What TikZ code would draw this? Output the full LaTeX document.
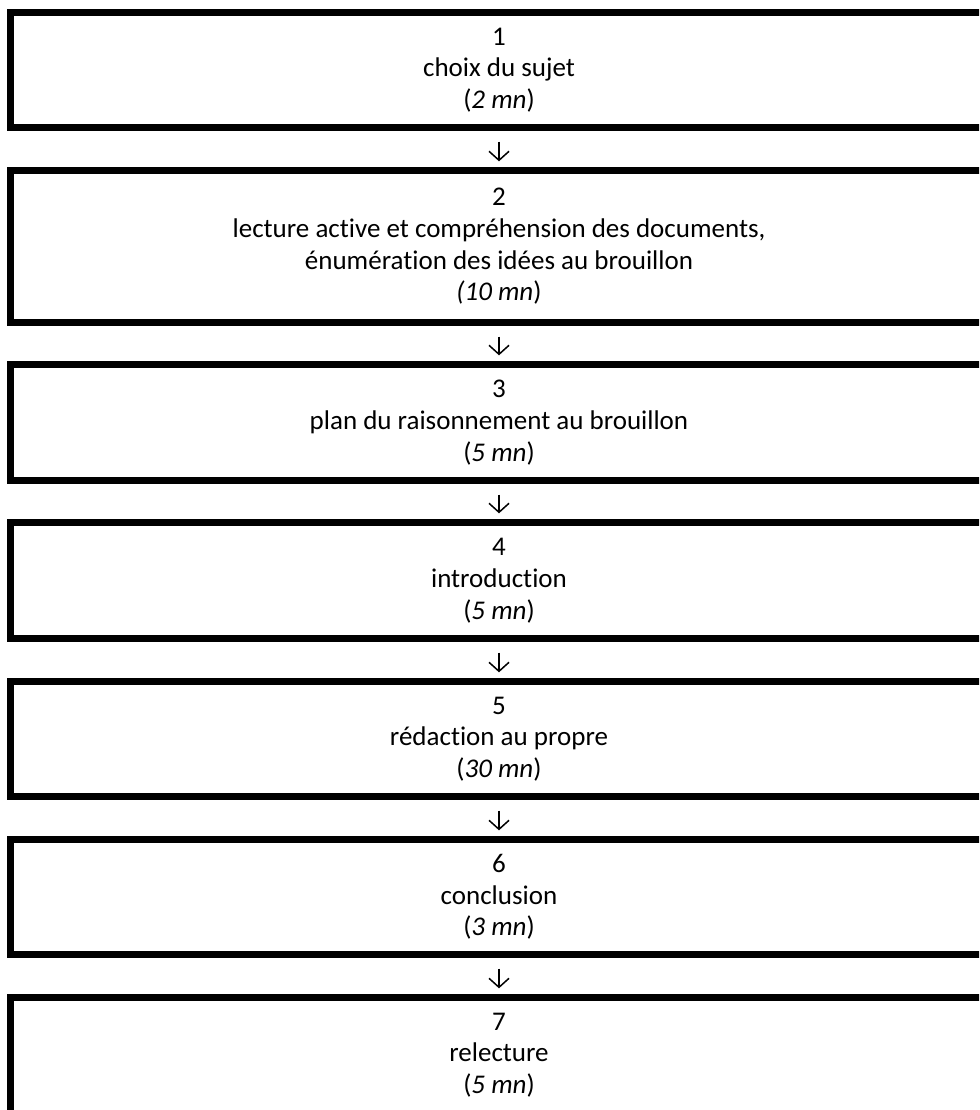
\documentclass[tikz,border=0pt]{standalone}
\usepackage{fontspec}
\setmainfont{Carlito}[Ligatures=NoCommon]
\usetikzlibrary{arrows.meta}

\begin{document}
\begin{tikzpicture}[x=1pt,y=-1pt]

\tikzset{stepbox/.style = {shape=rectangle, minimum width=977pt, inner sep=0pt, align=center, font=\fontsize{27}{31.7}\selectfont}}
\tikzset{frame/.style = {line width=7pt}}
\tikzset{edge/.style = {-{Straight Barb[length=9pt,width=20pt]}, line width=1.5pt, shorten <=14pt, shorten >=9pt}}

\useasboundingbox (0,0) rectangle (979,1110);
\clip (0,0) rectangle (979,1110);

%steps
\node[stepbox, minimum height=115pt] (1) at (499,70) {1\\choix du sujet\\(\textit{2 mn})};
\node[stepbox, minimum height=152pt] (2) at (499,246.5) {2\\lecture active et compréhension des documents,\\énumération des idées au brouillon\\\textit{(10 mn})};
\node[stepbox, minimum height=116pt] (3) at (499,422.5) {3\\plan du raisonnement au brouillon\\(\textit{5 mn})};
\node[stepbox, minimum height=116pt] (4) at (499,580.5) {4\\introduction\\(\textit{5 mn})};
\node[stepbox, minimum height=115pt] (5) at (499,739) {5\\rédaction au propre\\(\textit{30 mn})};
\node[stepbox, minimum height=115pt] (6) at (499,897) {6\\conclusion\\(\textit{3 mn})};
\node[stepbox, minimum height=115pt] (7) at (499,1055) {7\\relecture\\(\textit{5 mn})};

%frames
\foreach \n in {1,...,6}
  \draw[frame] (\n.north east) -- (\n.north west) -- (\n.south west) -- (\n.south east);
\draw[frame] (7.north east) -- (7.north west) -- ++(0,130);

%edges
\foreach \a/\b in {1/2,2/3,3/4,4/5,5/6,6/7}
  \draw[edge] (\a.south) -- (\b.north);

\end{tikzpicture}
\end{document}
